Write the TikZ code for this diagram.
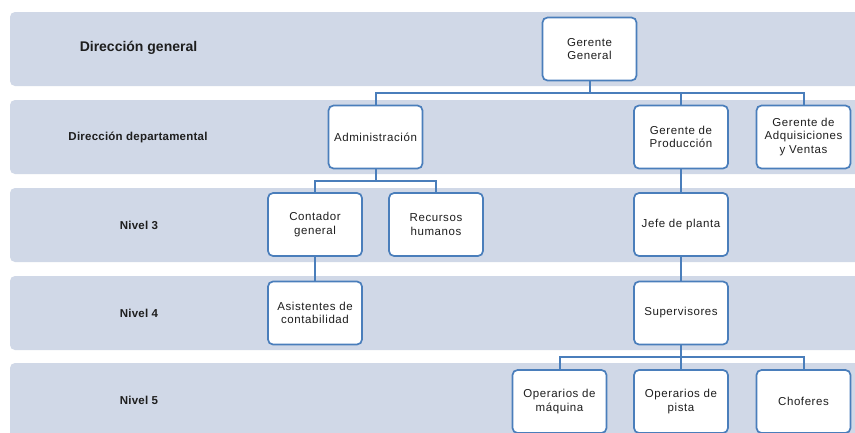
\documentclass[tikz,border=0pt]{standalone}
\usepackage{fontspec}
\setmainfont{Liberation Sans}
\newfontfamily\boxfont[LetterSpace=5]{Liberation Sans}
\newfontfamily\lblfont[LetterSpace=2]{Liberation Sans}
\definecolor{bandcol}{HTML}{D0D8E7}
\definecolor{boxline}{HTML}{4A7EBB}
\definecolor{txt}{HTML}{1E1E1E}
\tikzset{
  band/.style={fill=bandcol, rounded corners=5pt},
  orgbox/.style={draw=boxline, line width=1.7pt, fill=white, rounded corners=5pt,
    minimum width=94pt, minimum height=63pt, inner sep=2pt, align=center,
    text=txt, font=\boxfont\fontsize{11.5}{13.5}\selectfont},
  conn/.style={draw=boxline, line width=2pt},
  lvl/.style={font=\lblfont\bfseries\fontsize{11.5}{13.5}\selectfont, text=txt},
  lvlbig/.style={font=\bfseries\fontsize{14}{16}\selectfont, text=txt}
}
\begin{document}
\begin{tikzpicture}[x=1pt,y=-1pt]
\useasboundingbox (0,0) rectangle (855,432);
\clip (0,0) rectangle (855,432);
\fill[white] (0,0) rectangle (855,432);
% bands
\fill[band] (10,12) rectangle (875,86);
\fill[band] (10,100) rectangle (875,174);
\fill[band] (10,188) rectangle (875,262);
\fill[band] (10,276) rectangle (875,350);
\fill[band] (10,363) rectangle (875,450);
% level labels
\node[lvlbig] (l1) at (138.5,48) {Dirección general};
\node[lvl] (l2) at (138,137) {Dirección departamental};
\node[lvl] (l3) at (139,225) {Nivel 3};
\node[lvl] (l4) at (139,313) {Nivel 4};
\node[lvl] (l5) at (139,400) {Nivel 5};
% connectors
\coordinate (b1) at (589.5,93);
\coordinate (b2) at (375.5,181);
\coordinate (b3) at (681,357);
% boxes
\node[orgbox] (gg) at (589.5,49) {Gerente\\General};
\node[orgbox] (adm) at (375.5,137) {Administración};
\node[orgbox] (gp) at (681,137) {Gerente de\\Producción};
\node[orgbox] (gav) at (803.5,137) {Gerente de\\Adquisiciones\\y Ventas};
\node[orgbox] (cg) at (315,224.5) {Contador\\general};
\node[orgbox] (rh) at (436,224.5) {Recursos\\humanos};
\node[orgbox] (jp) at (681,224.5) {Jefe de planta};
\node[orgbox] (ac) at (315,313) {Asistentes de\\contabilidad};
\node[orgbox] (sup) at (681,313) {Supervisores};
\node[orgbox] (om) at (559.5,401.5) {Operarios de\\máquina};
\node[orgbox] (op) at (681,401.5) {Operarios de\\pista};
\node[orgbox] (ch) at (803.5,401.5) {Choferes};
\draw[conn] (gg.south) -- (b1);
\draw[conn] (b1) -| (adm.north);
\draw[conn] (b1) -| (gp.north);
\draw[conn] (b1) -| (gav.north);
\draw[conn] (adm.south) -- (b2);
\draw[conn] (b2) -| (cg.north);
\draw[conn] (b2) -| (rh.north);
\draw[conn] (gp.south) -- (jp.north);
\draw[conn] (jp.south) -- (sup.north);
\draw[conn] (cg.south) -- (ac.north);
\draw[conn] (sup.south) -- (b3);
\draw[conn] (b3) -| (om.north);
\draw[conn] (b3) -| (op.north);
\draw[conn] (b3) -| (ch.north);
\end{tikzpicture}
\end{document}
